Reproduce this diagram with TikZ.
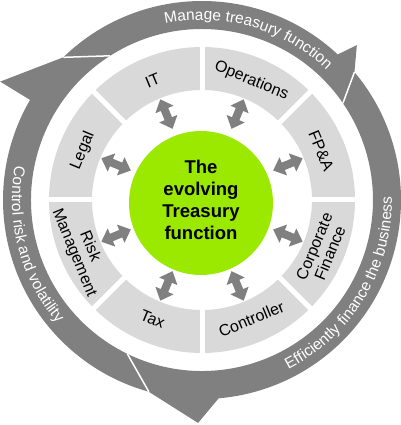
\documentclass[tikz,border=0pt]{standalone}
\usepackage{fontspec}
\setmainfont{Liberation Sans}
\usepackage{tikz}
\usetikzlibrary{arrows.meta,decorations.text}
\definecolor{ringgray}{RGB}{217,217,217}
\definecolor{bandgray}{RGB}{128,128,128}
\definecolor{treasurygreen}{RGB}{155,232,0}
\newcommand{\outerR}{199pt}
\newcommand{\innerR}{171pt}
\newcommand{\outerfont}{\fontsize{15.5}{18}\selectfont}
\tikzset{
 band/.style={fill=bandgray},
 taper/.style={draw=white, line width=1.5pt},
 gapline/.style={draw=white, line width=5pt},
 twoway/.style={draw=bandgray, line width=8pt, {Triangle[width=19pt,length=11pt]}-{Triangle[width=19pt,length=11pt]}},
 seglabel/.style={font=\fontsize{16}{17}\selectfont, align=center, inner sep=0pt},
 corecircle/.style={circle, fill=treasurygreen, minimum size=144pt, inner sep=0pt}
}
% tail, taper end, base, barb angle, barb radius, next tail, next taper end
\newcommand{\cyclearrow}[7]{
 \fill[band] (#1:\outerR) arc[start angle=#1, end angle=#3, radius=\outerR] -- (#4:#5pt) -- (#6:\outerR) -- (#7:\innerR) arc[start angle=#7, end angle=#2, radius=\innerR] -- cycle;
}
% radius, start, end, text
\newcommand{\bandtext}[4]{
 \path[decorate, decoration={text along path, text align=center, text color=white, text={|\outerfont|#4}}] (#2:#1pt) arc[start angle=#2, end angle=#3, radius=#1pt];
}

\begin{document}
\begin{tikzpicture}
 \useasboundingbox (-202pt,-225pt) rectangle (198pt,200pt);
%
 \cyclearrow{134.2}{122.5}{47}{45}{219}{40}{34.5}
 \cyclearrow{40}{34.5}{-85.2}{-91}{223}{-105.5}{-115.9}
 \cyclearrow{254.5}{244.1}{149.8}{149.6}{234}{134.2}{122.5}
 \foreach \t/\f in {134.2/122.5, 40/34.5, 254.5/244.1}
  \draw[taper] (\t:\outerR) -- (\f:\innerR);
%
 \bandtext{180}{106}{42}{Manage treasury function}
 \bandtext{190}{-66}{4}{Efficiently finance the business}
 \bandtext{190}{160}{230}{Control risk and volatility}
%
 \fill[ringgray, even odd rule] (0,0) circle[radius=153pt] (0,0) circle[radius=110pt];
 \foreach \a in {0,45,...,315}
  \draw[gapline] (\a:105pt) -- (\a:158pt);
%
 \node[seglabel, rotate=22.5] (it) at (112.5:129pt) {IT};
 \node[seglabel, rotate=-22.5] (ops) at (67.5:129pt) {Operations};
 \node[seglabel, rotate=-67.5] (fpa) at (22.5:129pt) {FP\&A};
 \node[seglabel, rotate=67.5] (corp) at (-22.5:130pt) {Corporate\\Finance};
 \node[seglabel, rotate=22.5] (ctrl) at (-67.5:129pt) {Controller};
 \node[seglabel, rotate=-22.5] (tax) at (-112.5:129pt) {Tax};
 \node[seglabel, rotate=-67.5] (risk) at (-157.5:130pt) {Risk\\Management};
 \node[seglabel, rotate=67.5] (legal) at (157.5:129pt) {Legal};
%
 \node[corecircle] (core) at (-1pt,-3pt) {};
 \node[align=center, font=\bfseries\fontsize{18.5}{22}\selectfont, inner sep=0pt] (coretext) at (-1pt,0pt) {The\\evolving\\Treasury\\function};
%
 \foreach \a [count=\i] in {22.5,67.5,...,337.5} {
  \coordinate (in\i) at (\a:77pt);
  \coordinate (out\i) at (\a:109pt);
  \draw[twoway] (in\i) -- (out\i);
 }
\end{tikzpicture}
\end{document}
